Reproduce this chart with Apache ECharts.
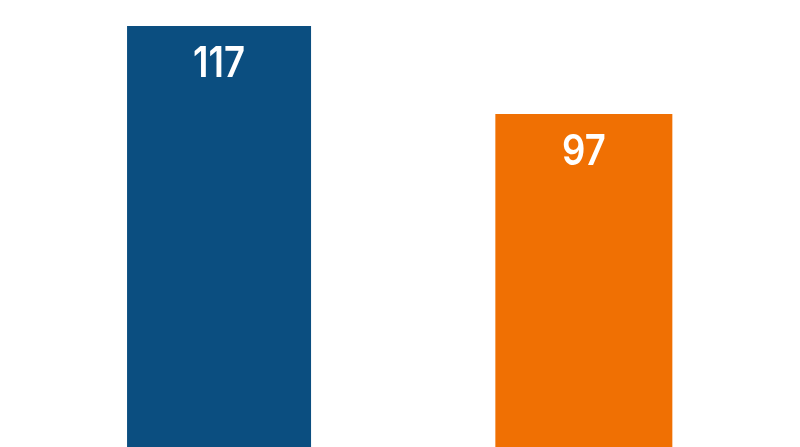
<!DOCTYPE html>
<html lang="en">

<head>
  <meta charset="UTF-8">
  <title>echarts</title>
  <style>
  html, body { margin: 0; padding: 0; background: #fff; }
  #main {
    width: 800px;
    height: 447px;
  }
  </style>
  <script src="https://cdn.jsdelivr.net/npm/echarts@6/dist/echarts.min.js"></script>
</head>

<body>
  <div id="main"></div>
  <script>
  var categories = ['A', 'B'];
  var valuesA = [117, '-'];
  var valuesB = ['-', 97];
  var colors = ['#0b4e80', '#f07003'];

  // labels drawn narrow (face squeezed horizontally)
  var labelDx = [3.5, 0];
  var labelDy = 38.5;

  var myChart = echarts.init(document.getElementById('main'));
  myChart.setOption({
    animation: false,
    grid: {
      left: 31.4,
      right: 32,
      top: 26,
      bottom: 0,
      containLabel: false
    },
    xAxis: {
      type: 'category',
      data: categories,
      show: false
    },
    yAxis: {
      type: 'value',
      min: 21.3,
      max: 117,
      show: false
    },
    series: [{
      type: 'bar',
      data: valuesA,
      barWidth: 184,
      barGap: '-100%',
      itemStyle: { color: colors[0] }
    }, {
      type: 'bar',
      data: valuesB,
      barWidth: 177,
      barGap: '-100%',
      itemStyle: { color: colors[1] }
    }, {
      type: 'custom',
      z: 10,
      data: categories.map(function (c, i) {
        return [i, valuesA[i] !== '-' ? valuesA[i] : valuesB[i]];
      }),
      renderItem: function (params, api) {
        var p = api.coord([api.value(0), api.value(1)]);
        return {
          type: 'text',
          x: p[0] + labelDx[params.dataIndex],
          y: p[1] + labelDy,
          scaleX: 0.85,
          style: {
            text: String(api.value(1)),
            fill: '#fff',
            font: '600 43px Inter, "Open Sans", sans-serif',
            align: 'center',
            verticalAlign: 'middle'
          }
        };
      }
    }]
  });
  </script>
</body>

</html>
